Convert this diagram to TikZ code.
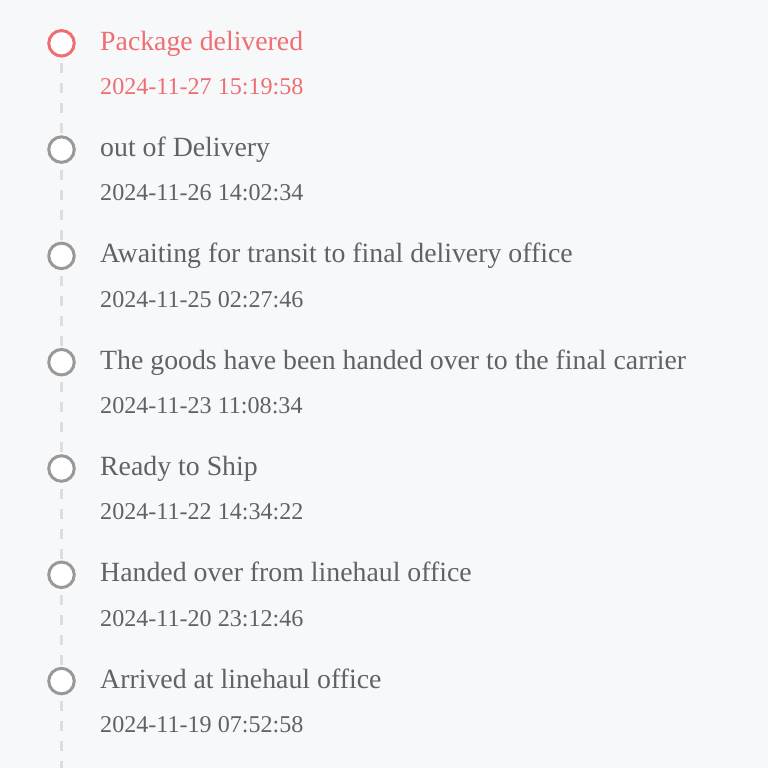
\documentclass[tikz,border=0pt]{standalone}
\usepackage{fontspec}
\setmainfont{Liberation Serif}
\definecolor{bgc}{HTML}{F7F8FA}
\definecolor{redc}{HTML}{EF6E72}
\definecolor{grayc}{HTML}{999999}
\definecolor{textc}{HTML}{606266}
\definecolor{linec}{HTML}{DCDDE0}
\tikzset{
  dot/.style={circle, draw=grayc, line width=3pt, fill=white, minimum size=25.5pt, inner sep=0pt},
  reddot/.style={dot, draw=redc},
  title/.style={anchor=base west, inner sep=0pt, text=textc, font=\fontsize{27.8}{30}\selectfont},
  stamp/.style={anchor=base west, inner sep=0pt, text=textc, font=\fontsize{24.1}{28}\selectfont},
  rail/.style={draw=linec, line width=3pt, dash pattern=on 10pt off 10pt}
}
\begin{document}
\begin{tikzpicture}[x=1pt,y=1pt]
\useasboundingbox[fill=bgc] (0,0) rectangle (768,-768);
\coordinate (end) at (61.5,-768);
\foreach \i in {0,...,6}{
  \coordinate (c\i) at (61.5,{-43.3-106.3*\i});
}
\draw[rail] (c0) -- (c1);
\draw[rail] (c1) -- (c2);
\draw[rail] (c2) -- (c3);
\draw[rail] (c3) -- (c4);
\draw[rail] (c4) -- (c5);
\draw[rail] (c5) -- (c6);
\draw[rail] (c6) -- (end);
\node[reddot] (d0) at (c0) {};
\foreach \i in {1,...,6}{ \node[dot] (d\i) at (c\i) {}; }
\foreach \i/\t/\s in {0/Package delivered/2024-11-27 15:19:58,
                      1/out of Delivery/2024-11-26 14:02:34,
                      2/Awaiting for transit to final delivery office/2024-11-25 02:27:46,
                      3/The goods have been handed over to the final carrier/2024-11-23 11:08:34,
                      4/Ready to Ship/2024-11-22 14:34:22,
                      5/Handed over from linehaul office/2024-11-20 23:12:46,
                      6/Arrived at linehaul office/2024-11-19 07:52:58}{
  \ifnum\i=0
    \node[title, text=redc] (t\i) at (100,{-50.3-106.3*\i}) {\t};
    \node[stamp, text=redc] (s\i) at (100,{-94.5-106.3*\i}) {\s};
  \else
    \node[title] (t\i) at (100,{-50.3-106.3*\i}) {\t};
    \node[stamp] (s\i) at (100,{-94.5-106.3*\i}) {\s};
  \fi
}
\end{tikzpicture}
\end{document}
